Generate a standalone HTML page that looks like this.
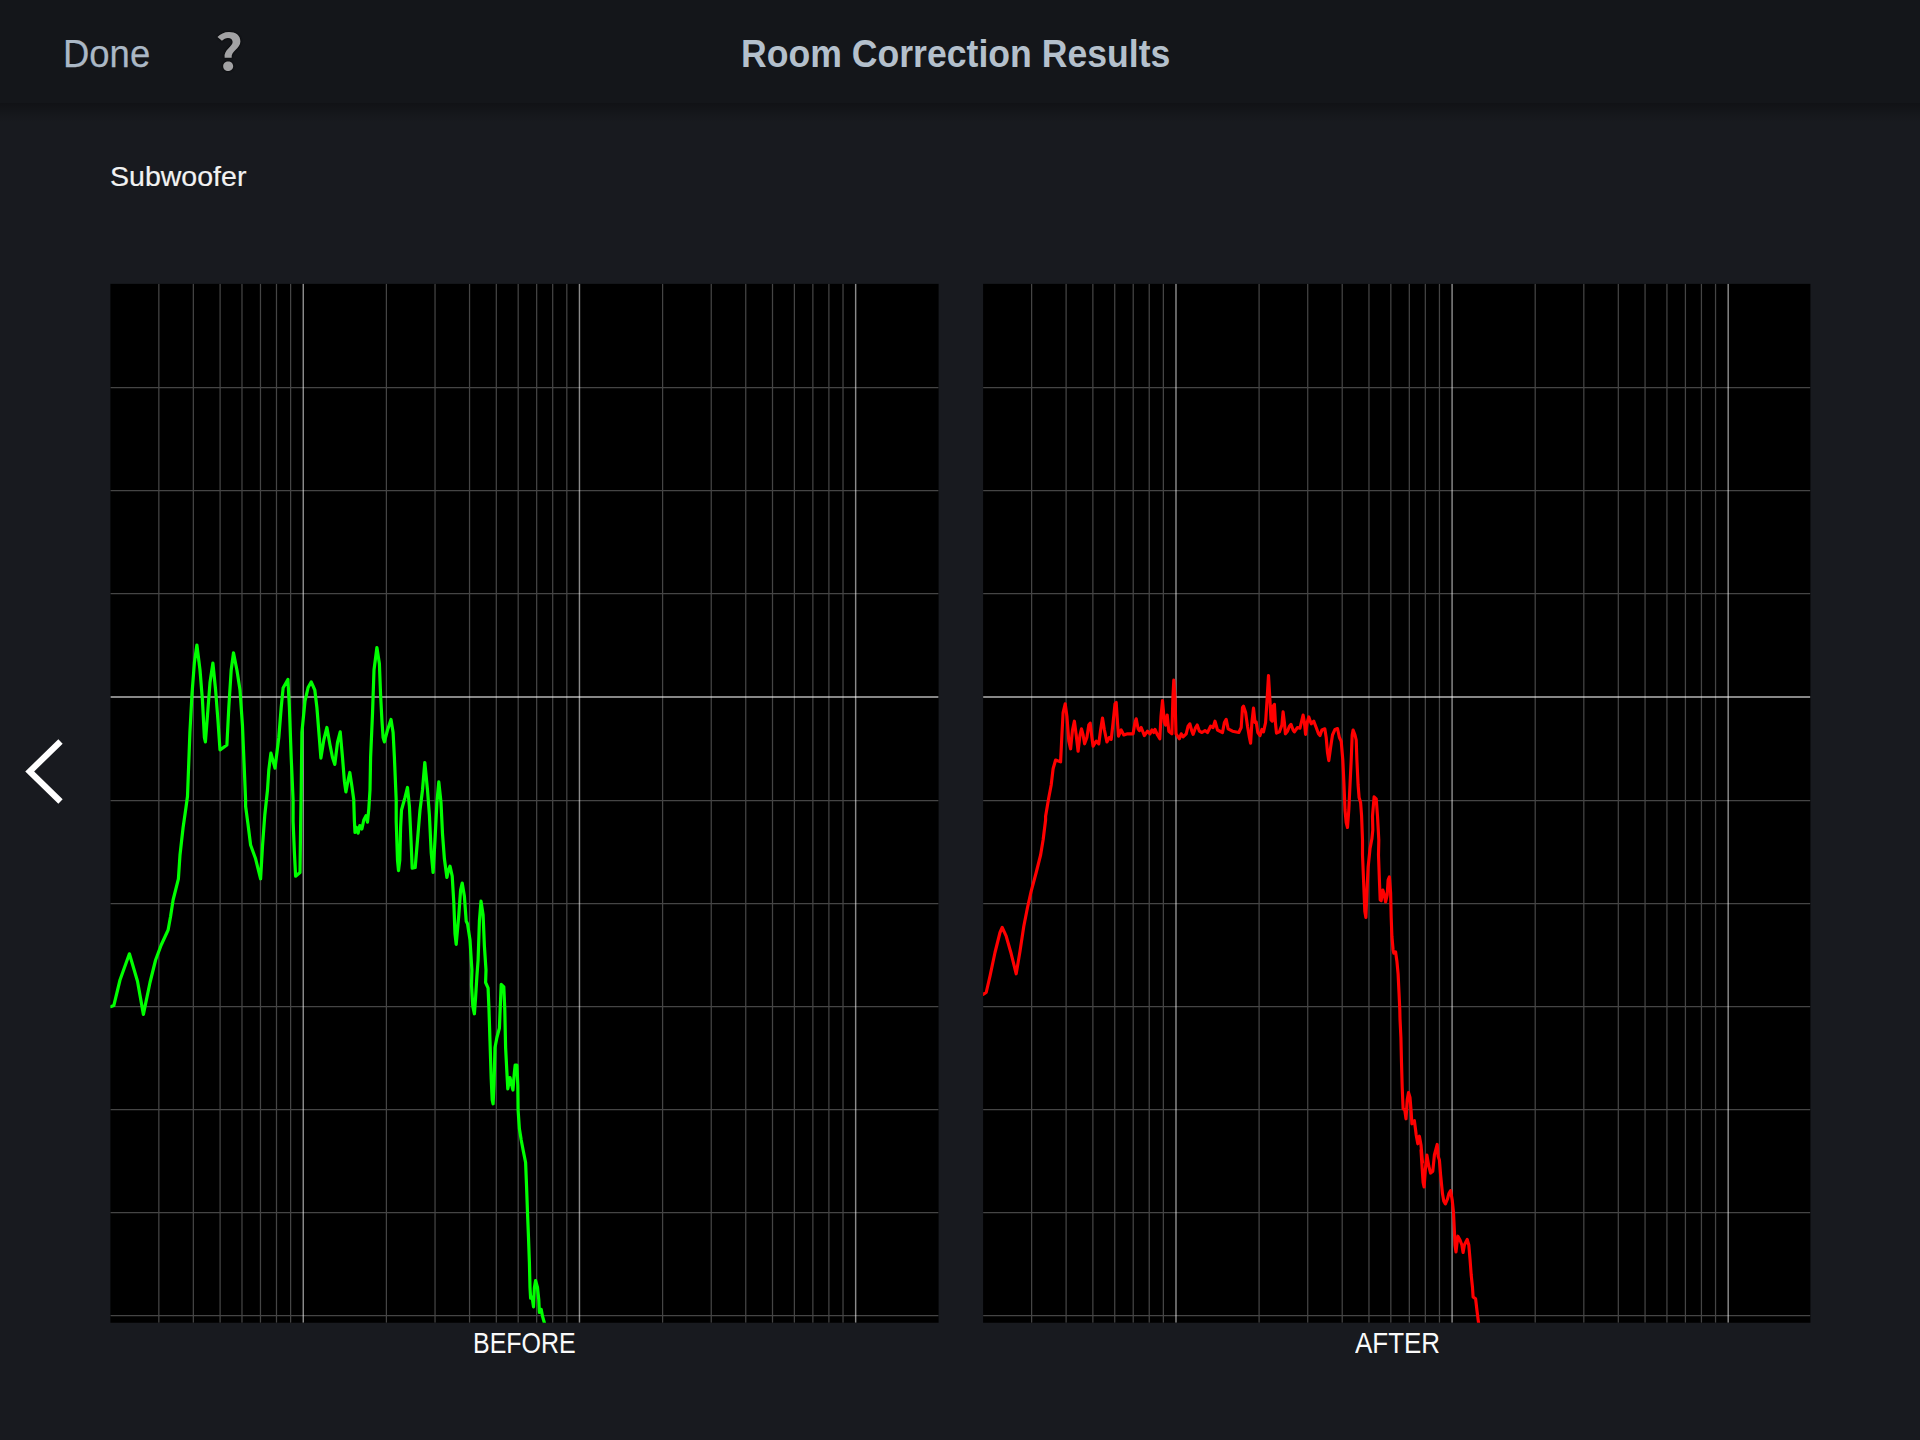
<!DOCTYPE html>
<html lang="en">
<head>
<meta charset="utf-8">
<title>Room Correction Results</title>
<style>
html,body{margin:0;padding:0;}
body{width:1920px;height:1440px;overflow:hidden;background:#181a1f;position:relative;
  font-family:"Liberation Sans",sans-serif;}
.bar{position:absolute;left:0;top:0;width:1920px;height:103px;background:#14161a;}
.shade{position:absolute;left:0;top:103px;width:1920px;height:20px;
  background:linear-gradient(to bottom,rgba(0,0,0,.30),rgba(0,0,0,.22) 25%,rgba(0,0,0,.08) 65%,rgba(0,0,0,0));}
.t{position:absolute;white-space:nowrap;line-height:1;}
#done{left:63px;top:35px;font-size:38.6px;color:#abb8c5;-webkit-text-stroke:.25px #abb8c5;transform-origin:0 0;transform:scaleX(.945);}
#help{left:215px;top:24px;font-size:49.7px;font-weight:bold;color:#a2a2a4;font-family:"Noto Sans CJK SC","Liberation Sans",sans-serif;text-shadow:0 0 1.5px rgba(0,0,0,.9),0 0 2px rgba(0,0,0,.6);transform-origin:0 0;transform:scaleX(1.1);}
#title{left:741px;top:34.6px;font-size:38px;font-weight:bold;color:#b4c0cc;transform-origin:0 0;transform:scaleX(.937);}
#sub{left:110px;top:162.3px;font-size:28.4px;color:#f2f2f2;-webkit-text-stroke:.2px #f2f2f2;transform-origin:0 0;transform:scaleX(1.005);}
#before{left:473.2px;top:1328px;font-size:29.4px;color:#fafafa;transform-origin:0 0;transform:scaleX(.85);}
#after{left:1355px;top:1328px;font-size:29.4px;color:#fafafa;transform-origin:0 0;transform:scaleX(.883);}
svg{position:absolute;left:0;top:0;}
</style>
</head>
<body>
<div class="bar"></div>
<div class="shade"></div>
<div class="t" id="done">Done</div>
<div class="t" id="help">?</div>
<div class="t" id="title">Room Correction Results</div>
<div class="t" id="sub">Subwoofer</div>
<svg width="1920" height="1440" viewBox="0 0 1920 1440">
<defs>
<clipPath id="c1"><rect x="110.4" y="283.85" width="828.2" height="1038.9"/></clipPath>
<clipPath id="c2"><rect x="983.1" y="283.85" width="827.3" height="1038.9"/></clipPath>
</defs>
<polyline points="60.5,741.5 29.7,771.5 60.5,801.5" fill="none" stroke="#fff" stroke-width="6.2" stroke-linejoin="miter" stroke-miterlimit="10"/>
<rect x="110.4" y="283.85" width="828.2" height="1038.9" fill="#000"/>
<rect x="983.1" y="283.85" width="827.3" height="1038.9" fill="#000"/>
<g clip-path="url(#c1)">
<path d="M158.84 283.85V1322.75M193.34 283.85V1322.75M220.11 283.85V1322.75M241.98 283.85V1322.75M260.47 283.85V1322.75M276.49 283.85V1322.75M290.62 283.85V1322.75M386.40 283.85V1322.75M435.04 283.85V1322.75M469.54 283.85V1322.75M496.31 283.85V1322.75M518.18 283.85V1322.75M536.67 283.85V1322.75M552.69 283.85V1322.75M566.82 283.85V1322.75M662.60 283.85V1322.75M711.24 283.85V1322.75M745.74 283.85V1322.75M772.51 283.85V1322.75M794.38 283.85V1322.75M812.87 283.85V1322.75M828.89 283.85V1322.75M843.02 283.85V1322.75M110.4 387.50H938.6M110.4 490.50H938.6M110.4 593.50H938.6M110.4 800.50H938.6M110.4 903.50H938.6M110.4 1006.50H938.6M110.4 1109.50H938.6M110.4 1212.50H938.6M110.4 1315.50H938.6" stroke="#fff" stroke-opacity=".27" stroke-width="1.25" fill="none"/>
<path d="M303.26 283.85V1322.75M579.46 283.85V1322.75M855.66 283.85V1322.75" stroke="#fff" stroke-opacity=".54" stroke-width="1.45" fill="none"/>
<path d="M110.4 697.00H938.6" stroke="#fff" stroke-opacity=".53" stroke-width="2" fill="none"/>
<path d="M111.2 1006.5 L113.8 1005.6 L120.0 980.0 L129.4 953.8 L137.5 981.2 L143.4 1014.4 L150.0 982.5 L155.6 960.0 L161.2 945.0 L168.1 930.0 L170.6 916.2 L173.1 900.0 L178.4 878.8 L180.0 855.0 L183.1 827.5 L185.8 808.8 L187.5 796.2 L189.9 732.5 L192.0 693.8 L194.4 662.5 L196.9 645.0 L200.0 670.0 L202.5 701.2 L204.4 737.5 L205.4 741.9 L207.5 715.0 L210.0 682.5 L212.9 663.1 L215.6 690.0 L218.1 722.5 L220.0 750.0 L226.9 745.0 L228.8 707.5 L231.2 670.0 L233.5 652.8 L236.9 670.0 L240.0 690.0 L242.5 726.2 L245.6 800.0 L245.6 806.2 L248.1 825.0 L250.6 845.0 L255.6 858.8 L260.6 878.8 L262.5 846.2 L264.8 815.0 L267.5 790.0 L268.8 770.0 L270.9 753.1 L273.1 761.2 L275.0 768.1 L278.8 737.5 L281.2 707.5 L283.1 688.1 L287.9 679.4 L289.4 707.5 L291.2 757.5 L293.1 800.0 L293.1 821.2 L294.4 852.5 L295.6 876.2 L300.0 872.5 L300.6 827.5 L301.2 790.0 L301.9 732.5 L305.0 701.2 L308.1 687.5 L311.2 681.9 L314.8 690.0 L316.9 707.5 L319.4 738.8 L320.9 758.1 L323.8 740.0 L326.9 727.5 L330.0 745.0 L332.5 757.5 L334.8 764.4 L337.5 742.5 L340.2 731.9 L342.5 757.5 L344.4 781.2 L345.9 791.9 L348.1 780.0 L349.8 772.5 L351.9 786.2 L353.8 800.0 L353.8 802.5 L354.4 821.2 L355.0 832.5 L356.6 827.5 L358.1 833.1 L359.8 825.6 L361.9 829.0 L363.8 820.0 L366.0 815.6 L367.5 822.2 L368.8 808.8 L370.0 790.0 L370.6 757.5 L372.5 713.8 L374.0 670.0 L376.9 647.5 L379.4 663.8 L380.6 695.0 L381.9 720.0 L383.1 737.5 L384.4 741.9 L387.5 730.0 L391.0 719.4 L393.1 732.5 L394.4 757.5 L396.2 800.0 L396.2 821.2 L397.5 860.0 L398.5 870.6 L399.8 860.0 L400.6 827.5 L401.5 810.0 L405.0 797.5 L407.5 787.5 L409.4 806.2 L411.0 840.0 L412.2 868.1 L415.2 867.5 L417.5 840.0 L420.0 810.0 L422.5 790.0 L424.8 762.5 L427.5 790.0 L429.4 815.0 L431.2 852.5 L433.1 872.5 L435.0 840.0 L436.9 802.5 L438.8 781.9 L441.0 802.5 L442.5 833.8 L444.4 858.8 L446.9 877.5 L448.5 870.0 L450.0 866.2 L452.2 876.2 L453.8 902.5 L455.0 933.8 L456.2 944.4 L458.8 915.0 L460.6 890.0 L462.2 883.1 L464.4 896.2 L466.2 921.2 L467.5 923.8 L470.0 940.0 L471.9 970.0 L471.5 985.0 L472.8 1006.2 L474.4 1013.8 L475.6 997.5 L476.9 976.2 L478.1 960.0 L479.4 921.2 L481.0 901.2 L483.1 915.0 L484.4 946.2 L486.0 970.0 L485.6 982.5 L488.1 988.1 L489.0 1010.0 L490.0 1041.2 L491.2 1078.8 L492.2 1100.0 L493.1 1103.8 L494.0 1085.0 L495.0 1047.5 L496.9 1037.5 L499.4 1028.1 L500.4 1003.8 L501.2 984.4 L503.8 986.9 L504.8 1010.0 L505.6 1047.5 L506.9 1072.5 L507.8 1088.8 L510.0 1077.5 L512.9 1090.0 L514.4 1072.5 L515.2 1065.0 L516.9 1065.0 L517.8 1085.0 L518.1 1110.0 L519.4 1128.8 L521.2 1140.0 L523.1 1150.0 L525.6 1162.5 L526.6 1187.5 L527.5 1212.5 L528.5 1237.5 L529.4 1262.5 L530.0 1287.5 L530.6 1298.1 L532.2 1297.5 L533.5 1306.9 L534.4 1287.5 L535.6 1280.6 L537.5 1287.5 L538.8 1300.0 L539.4 1312.5 L541.2 1309.4 L542.5 1316.2 L545.0 1325.0" fill="none" stroke="#00ff00" stroke-width="3.2" stroke-linejoin="round" stroke-linecap="round"/>
</g>
<g clip-path="url(#c2)">
<path d="M1031.62 283.85V1322.75M1066.11 283.85V1322.75M1092.87 283.85V1322.75M1114.73 283.85V1322.75M1133.22 283.85V1322.75M1149.23 283.85V1322.75M1163.35 283.85V1322.75M1259.10 283.85V1322.75M1307.72 283.85V1322.75M1342.21 283.85V1322.75M1368.97 283.85V1322.75M1390.83 283.85V1322.75M1409.32 283.85V1322.75M1425.33 283.85V1322.75M1439.45 283.85V1322.75M1535.20 283.85V1322.75M1583.82 283.85V1322.75M1618.31 283.85V1322.75M1645.07 283.85V1322.75M1666.93 283.85V1322.75M1685.42 283.85V1322.75M1701.43 283.85V1322.75M1715.55 283.85V1322.75M983.1 387.50H1810.4M983.1 490.50H1810.4M983.1 593.50H1810.4M983.1 800.50H1810.4M983.1 903.50H1810.4M983.1 1006.50H1810.4M983.1 1109.50H1810.4M983.1 1212.50H1810.4M983.1 1315.50H1810.4" stroke="#fff" stroke-opacity=".27" stroke-width="1.25" fill="none"/>
<path d="M1175.99 283.85V1322.75M1452.09 283.85V1322.75M1728.19 283.85V1322.75" stroke="#fff" stroke-opacity=".54" stroke-width="1.45" fill="none"/>
<path d="M983.1 697.00H1810.4" stroke="#fff" stroke-opacity=".53" stroke-width="2" fill="none"/>
<path d="M983.1 994.4 L986.2 992.5 L990.0 976.2 L995.0 952.5 L1000.0 932.5 L1002.2 927.5 L1006.2 936.2 L1011.2 953.8 L1016.2 973.8 L1020.0 951.2 L1023.8 926.2 L1027.5 907.5 L1031.2 891.2 L1036.2 872.5 L1040.6 855.0 L1043.1 840.0 L1045.6 820.0 L1045.6 816.2 L1048.8 797.5 L1051.2 785.0 L1053.1 768.8 L1055.6 760.0 L1060.6 761.9 L1061.9 735.0 L1063.1 712.5 L1065.2 703.8 L1066.9 716.2 L1068.8 741.2 L1070.6 748.8 L1072.5 730.0 L1074.4 721.2 L1076.2 735.0 L1078.1 751.2 L1080.0 735.0 L1081.5 728.8 L1083.1 735.0 L1084.6 743.8 L1086.9 737.5 L1088.8 725.0 L1090.2 723.1 L1091.9 737.5 L1093.1 746.2 L1096.2 741.2 L1098.8 743.8 L1100.6 730.0 L1102.5 718.1 L1104.4 730.0 L1106.9 741.9 L1109.4 737.5 L1111.2 739.4 L1113.1 722.5 L1115.0 703.8 L1116.2 702.5 L1117.5 722.5 L1118.5 736.2 L1121.2 730.0 L1123.8 735.0 L1127.5 733.8 L1133.1 733.8 L1135.0 722.5 L1136.2 718.8 L1138.1 728.8 L1139.4 730.6 L1141.2 727.5 L1144.4 735.6 L1147.5 731.2 L1150.0 733.8 L1151.9 730.0 L1153.8 732.5 L1155.0 729.4 L1157.5 735.0 L1159.8 738.8 L1161.0 716.2 L1162.5 700.6 L1164.4 722.5 L1165.6 725.0 L1167.2 715.0 L1168.8 731.2 L1171.9 733.8 L1172.9 697.5 L1173.8 680.0 L1175.0 697.5 L1176.0 733.8 L1179.4 738.8 L1181.2 733.8 L1183.1 736.9 L1186.2 733.8 L1188.1 726.2 L1189.8 723.8 L1191.9 731.2 L1193.1 734.4 L1195.6 727.5 L1197.2 725.0 L1199.4 731.2 L1201.9 732.5 L1205.0 730.6 L1207.5 732.5 L1210.6 726.2 L1213.1 727.5 L1215.0 721.2 L1217.5 730.0 L1222.5 732.5 L1224.4 722.5 L1226.2 719.4 L1228.1 728.8 L1232.5 731.2 L1238.8 732.5 L1241.2 727.5 L1242.5 707.5 L1243.5 706.2 L1245.6 712.5 L1247.5 726.2 L1249.4 737.5 L1250.6 743.1 L1251.9 722.5 L1253.5 708.1 L1255.0 722.5 L1256.2 721.9 L1257.8 732.5 L1260.0 735.6 L1261.9 729.4 L1263.5 731.9 L1265.6 722.5 L1267.2 697.5 L1268.5 675.6 L1269.8 697.5 L1271.0 720.0 L1272.2 721.2 L1273.1 706.2 L1274.4 704.4 L1275.4 722.5 L1276.5 733.1 L1279.4 731.9 L1281.9 725.0 L1283.1 711.9 L1284.4 722.5 L1285.4 733.8 L1287.5 731.2 L1289.4 726.2 L1291.0 724.4 L1293.1 730.0 L1294.4 731.9 L1297.5 727.5 L1300.0 728.1 L1301.9 720.0 L1303.1 715.0 L1304.4 722.5 L1305.6 734.4 L1307.2 722.5 L1308.8 716.9 L1311.2 723.8 L1313.8 721.2 L1316.2 727.5 L1318.5 733.8 L1320.0 735.6 L1321.9 730.0 L1324.8 728.8 L1326.2 737.5 L1327.5 752.5 L1328.8 760.6 L1330.6 747.5 L1332.5 735.0 L1335.0 729.4 L1337.5 728.5 L1339.4 737.5 L1341.2 741.2 L1342.8 760.0 L1344.0 785.0 L1345.0 810.0 L1346.2 822.5 L1347.5 827.5 L1348.8 810.0 L1350.0 785.0 L1351.2 760.0 L1352.2 735.0 L1353.1 730.0 L1355.0 735.0 L1356.2 740.0 L1356.9 760.0 L1358.1 785.0 L1359.1 797.5 L1360.6 802.5 L1361.6 816.2 L1362.5 840.0 L1362.5 855.0 L1363.8 886.2 L1364.8 911.2 L1365.9 917.5 L1366.9 892.5 L1368.1 867.5 L1370.0 848.8 L1371.9 838.8 L1372.8 830.0 L1372.5 816.2 L1374.1 796.9 L1376.2 798.8 L1377.5 816.2 L1378.8 840.0 L1378.5 855.0 L1379.4 880.0 L1380.2 900.0 L1381.2 900.6 L1382.8 890.0 L1384.4 895.0 L1385.6 901.9 L1387.2 895.0 L1388.1 880.0 L1389.4 876.9 L1390.6 892.5 L1391.2 917.5 L1391.9 936.2 L1393.1 950.0 L1393.8 953.1 L1395.6 951.9 L1396.9 961.2 L1398.1 973.8 L1399.0 992.5 L1399.8 1010.0 L1400.0 1018.8 L1400.9 1037.5 L1401.5 1062.5 L1402.2 1087.5 L1403.1 1108.8 L1404.8 1110.0 L1406.0 1118.8 L1407.2 1100.0 L1408.5 1092.5 L1410.0 1097.5 L1411.2 1112.5 L1411.9 1123.8 L1414.4 1120.6 L1415.6 1130.0 L1416.2 1135.0 L1417.8 1143.8 L1419.4 1136.2 L1421.0 1145.0 L1422.5 1162.5 L1421.0 1150.0 L1422.2 1168.8 L1423.1 1182.5 L1424.1 1186.9 L1425.4 1168.8 L1426.9 1155.0 L1428.8 1166.2 L1430.6 1173.1 L1432.8 1171.2 L1434.4 1155.0 L1437.2 1144.4 L1438.1 1156.2 L1439.4 1160.0 L1440.6 1175.0 L1442.5 1193.8 L1443.8 1201.2 L1445.4 1203.8 L1447.5 1198.8 L1448.8 1193.8 L1450.6 1190.6 L1452.2 1200.0 L1453.5 1212.5 L1454.4 1231.2 L1455.0 1245.0 L1456.0 1251.9 L1456.9 1243.8 L1457.9 1236.2 L1460.0 1240.0 L1461.9 1245.0 L1463.1 1252.5 L1464.4 1245.0 L1465.6 1242.5 L1467.2 1239.4 L1468.8 1245.0 L1470.0 1258.8 L1471.2 1275.0 L1472.5 1287.5 L1473.1 1296.9 L1475.6 1298.8 L1476.9 1310.0 L1478.8 1325.0" fill="none" stroke="#ff0000" stroke-width="3.15" stroke-linejoin="round" stroke-linecap="round"/>
</g>
</svg>
<div class="t" id="before">BEFORE</div>
<div class="t" id="after">AFTER</div>
</body>
</html>
